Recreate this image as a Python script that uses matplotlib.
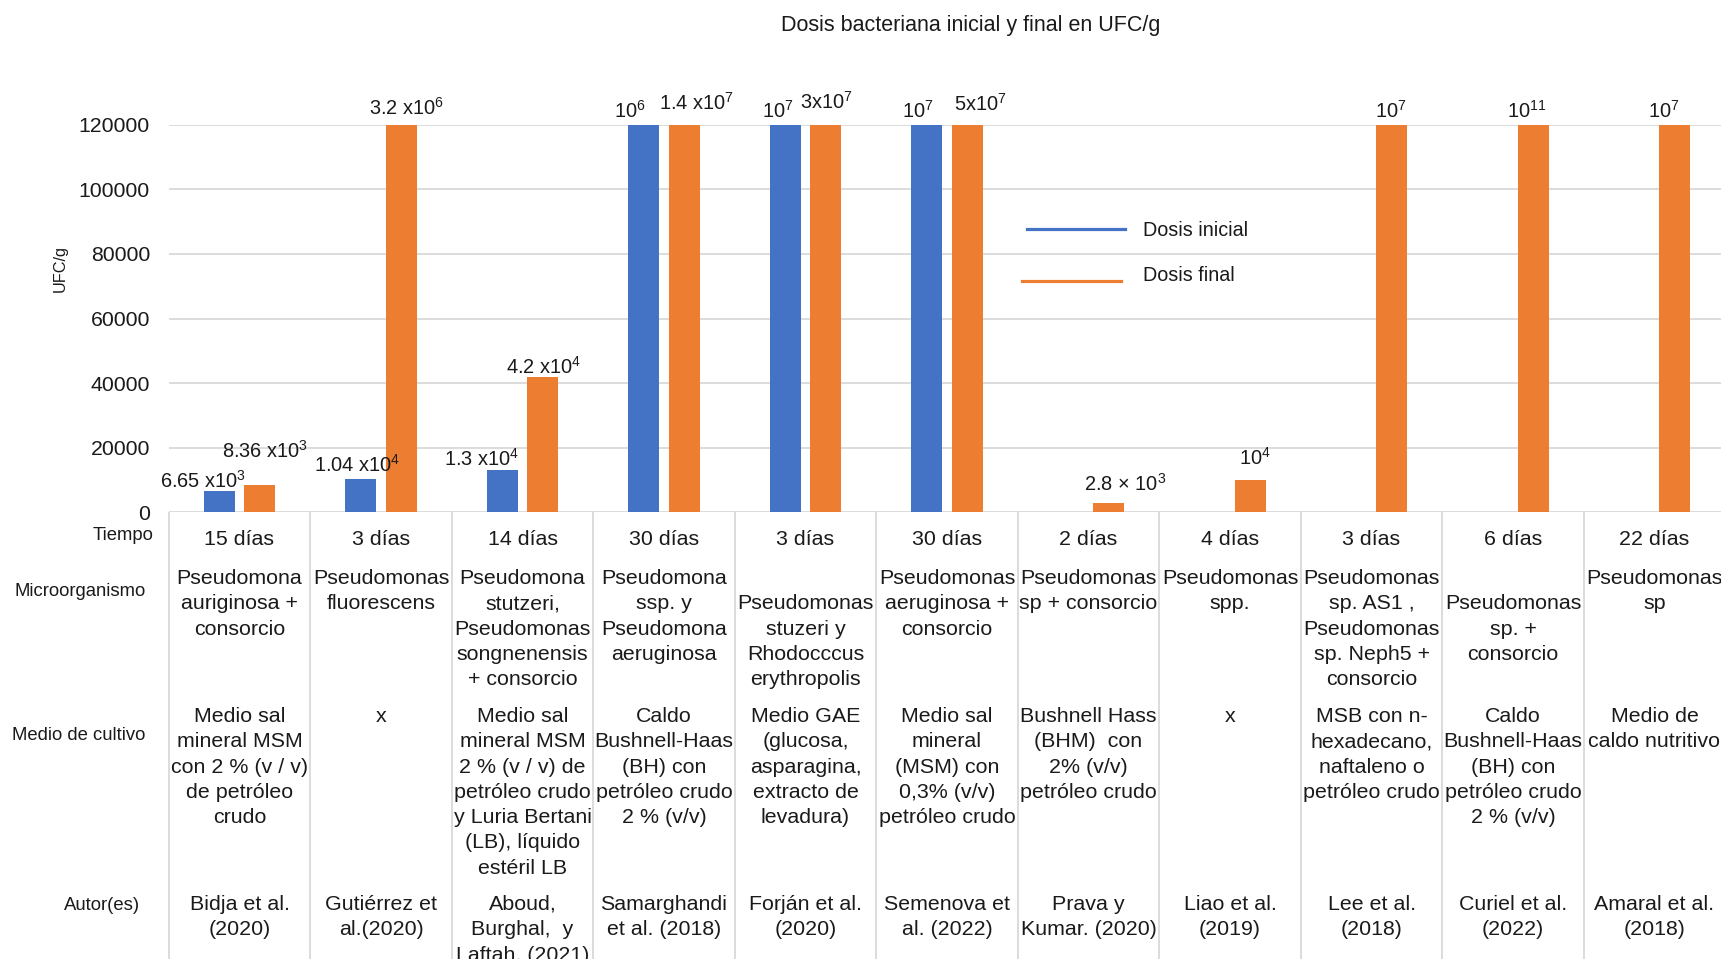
import numpy as np
import matplotlib
matplotlib.use("Agg")
import matplotlib.pyplot as plt
from matplotlib.transforms import blended_transform_factory
from matplotlib.lines import Line2D

plt.rcParams['font.family'] = ['Liberation Sans', 'DejaVu Sans']
plt.rcParams['mathtext.fontset'] = 'custom'
plt.rcParams['mathtext.rm'] = 'Liberation Sans'
plt.rcParams['mathtext.it'] = 'Liberation Sans'
plt.rcParams['mathtext.default'] = 'regular'

# ---------------------------------------------------------------- data
tiempo = ["15 días", "3 días", "14 días", "30 días", "3 días", "30 días",
          "2 días", "4 días", "3 días", "6 días", "22 días"]

microorganismo = [
    "Pseudomona\nauriginosa +\nconsorcio",
    "Pseudomonas\nfluorescens",
    "Pseudomona\nstutzeri,\nPseudomonas\nsongnenensis\n+ consorcio",
    "Pseudomona\nssp. y\nPseudomona\naeruginosa",
    "\nPseudomonas\nstuzeri y\nRhodocccus\nerythropolis",
    "Pseudomonas\naeruginosa +\nconsorcio",
    "Pseudomonas\nsp + consorcio",
    "Pseudomonas\nspp.",
    "Pseudomonas\nsp. AS1 ,\nPseudomonas\nsp. Neph5 +\nconsorcio",
    "\nPseudomonas\nsp. +\nconsorcio",
    "Pseudomonas\nsp",
]

medio_cultivo = [
    "Medio sal\nmineral MSM\ncon 2 % (v / v)\nde petróleo\ncrudo",
    "x",
    "Medio sal\nmineral MSM\n2 % (v / v) de\npetróleo crudo\ny Luria Bertani\n(LB), líquido\nestéril LB",
    "Caldo\nBushnell-Haas\n(BH) con\npetróleo crudo\n2 % (v/v)",
    "Medio GAE\n(glucosa,\nasparagina,\nextracto de\nlevadura)",
    "Medio sal\nmineral\n(MSM) con\n0,3% (v/v)\npetróleo crudo",
    "Bushnell Hass\n(BHM)  con\n2% (v/v)\npetróleo crudo",
    "x",
    "MSB con n-\nhexadecano,\nnaftaleno o\npetróleo crudo",
    "Caldo\nBushnell-Haas\n(BH) con\npetróleo crudo\n2 % (v/v)",
    "Medio de\ncaldo nutritivo",
]

autores = [
    "Bidja et al.\n(2020)", "Gutiérrez et\nal.(2020)",
    "Aboud,\nBurghal,  y\nLaftah. (2021)", "Samarghandi\net al. (2018)",
    "Forján et al.\n(2020)", "Semenova et\nal. (2022)", "Prava y\nKumar. (2020)",
    "Liao et al.\n(2019)", "Lee et al.\n(2018)", "Curiel et al.\n(2022)",
    "Amaral et al.\n(2018)",
]

dosis_inicial = [6.65e3, 1.04e4, 1.3e4, 1e6, 1e7, 1e7,
                 np.nan, np.nan, np.nan, np.nan, np.nan]
dosis_final = [8.36e3, 3.2e6, 4.2e4, 1.4e7, 3e7, 5e7,
               2.8e3, 1e4, 1e7, 1e11, 1e7]

etiquetas_inicial = ["6.65 x$10^{3}$", "1.04 x$10^{4}$", "1.3 x$10^{4}$",
                     "$10^{6}$", "$10^{7}$", "$10^{7}$", "", "", "", "", ""]
etiquetas_final = ["8.36 x$10^{3}$", "3.2 x$10^{6}$", "4.2 x$10^{4}$",
                   "1.4 x$10^{7}$", "3x$10^{7}$", "5x$10^{7}$",
                   "2.8 × $10^{3}$", "$10^{4}$", "$10^{7}$", "$10^{11}$",
                   "$10^{7}$"]

y_ticks = [0, 20000, 40000, 60000, 80000, 100000, 120000]
y_max = 120000

# ------------------------------------------------------------- styling
AZUL = "#4472C4"
NARANJA = "#ED7D31"
REJILLA = "#D9D9D9"
TEXTO = "#1a1a1a"

# label nudges (pixels) from the top centre of each bar
desp_inicial = [(-16, 10), (-4, 14), (-21, 12), (-14, 14), (-8, 14), (-9, 14)]
desp_final = [(5, 35), (5, 17), (1, 10), (12, 22), (1, 23), (13, 21),
              (16, 20), (5, 22), (-1, 14), (-6, 14), (-11, 14)]

W, H = 1721, 959
fig = plt.figure(figsize=(W / 100, H / 100), dpi=100)
ax_left, ax_bottom_px, ax_top_px, cat_w = 168.75, 512.4, 124.7, 141.5
n = len(tiempo)
ax = fig.add_axes([ax_left / W, 1 - ax_bottom_px / H,
                   cat_w * n / W, (ax_bottom_px - ax_top_px) / H])
ax.set_xlim(-0.5, n - 0.5)
ax.set_ylim(0, y_max)

x = np.arange(n)
bw, off = 0.221, 0.1425
ax.bar(x - off, dosis_inicial, bw, color=AZUL, zorder=3)
ax.bar(x + off, dosis_final, bw, color=NARANJA, zorder=3)

for i in range(n):
    if etiquetas_inicial[i]:
        dx, dy = desp_inicial[i]
        ax.annotate(etiquetas_inicial[i], xy=(x[i] - off, min(dosis_inicial[i], y_max)),
                    xytext=(dx, dy), textcoords="offset pixels", ha="center",
                    va="center", fontsize=14.4, color=TEXTO, annotation_clip=False)
    dx, dy = desp_final[i]
    ax.annotate(etiquetas_final[i], xy=(x[i] + off, min(dosis_final[i], y_max)),
                xytext=(dx, dy), textcoords="offset pixels", ha="center",
                va="center", fontsize=14.4, color=TEXTO, annotation_clip=False)

ax.set_yticks(y_ticks)
ax.set_xticks([])
ax.tick_params(axis="y", length=0, pad=13.5, labelsize=15.3, labelcolor=TEXTO)
ax.yaxis.grid(True, color=REJILLA, linewidth=1.3)
ax.set_axisbelow(True)
for s in ax.spines.values():
    s.set_visible(False)

# table below the plot
trans = blended_transform_factory(ax.transData, fig.transFigure)
ax.vlines(np.arange(n + 1) - 0.5, 0, 1 - ax_bottom_px / H, transform=trans,
          color=REJILLA, linewidth=1.3, clip_on=False)

filas = [tiempo, microorganismo, medio_cultivo, autores]
fila_y = [538, 577, 715, 903]
for textos, yc in zip(filas, fila_y):
    for i, t in enumerate(textos):
        ax.text(x[i], 1 - (yc - 8) / H, t, transform=trans, ha="center",
                va="top", multialignment="center", fontsize=15.4,
                linespacing=1.42, color=TEXTO, clip_on=False)

rotulos = [("Tiempo", 153.6, 535), ("Microorganismo", 145.4, 592),
           ("Medio de cultivo", 145.4, 736), ("Autor(es)", 140, 905)]
for t, xr, yc in rotulos:
    fig.text(xr / W, 1 - yc / H, t, ha="right", va="center",
             fontsize=13.3, color=TEXTO)

# legend drawn as line samples
fig.add_artist(Line2D([1026.8 / W, 1125.4 / W], [1 - 228.6 / H] * 2,
                      color=AZUL, linewidth=2.3))
fig.add_artist(Line2D([1021.8 / W, 1121 / W], [1 - 280.6 / H] * 2,
                      color=NARANJA, linewidth=2.3))
fig.text(1143.3 / W, 1 - 230 / H, "Dosis inicial", ha="left", va="center",
         fontsize=14.2, color=TEXTO)
fig.text(1143.3 / W, 1 - 275.5 / H, "Dosis final", ha="left", va="center",
         fontsize=14.2, color=TEXTO)

fig.text(970.6 / W, 1 - 25.8 / H, "Dosis bacteriana inicial y final en UFC/g",
         ha="center", va="center", fontsize=15.5, color=TEXTO)
fig.text(60 / W, 1 - 269 / H, "UFC/g", rotation=90, ha="center", va="center",
         fontsize=11.7, color=TEXTO)

fig.savefig("out.png", dpi=100)
